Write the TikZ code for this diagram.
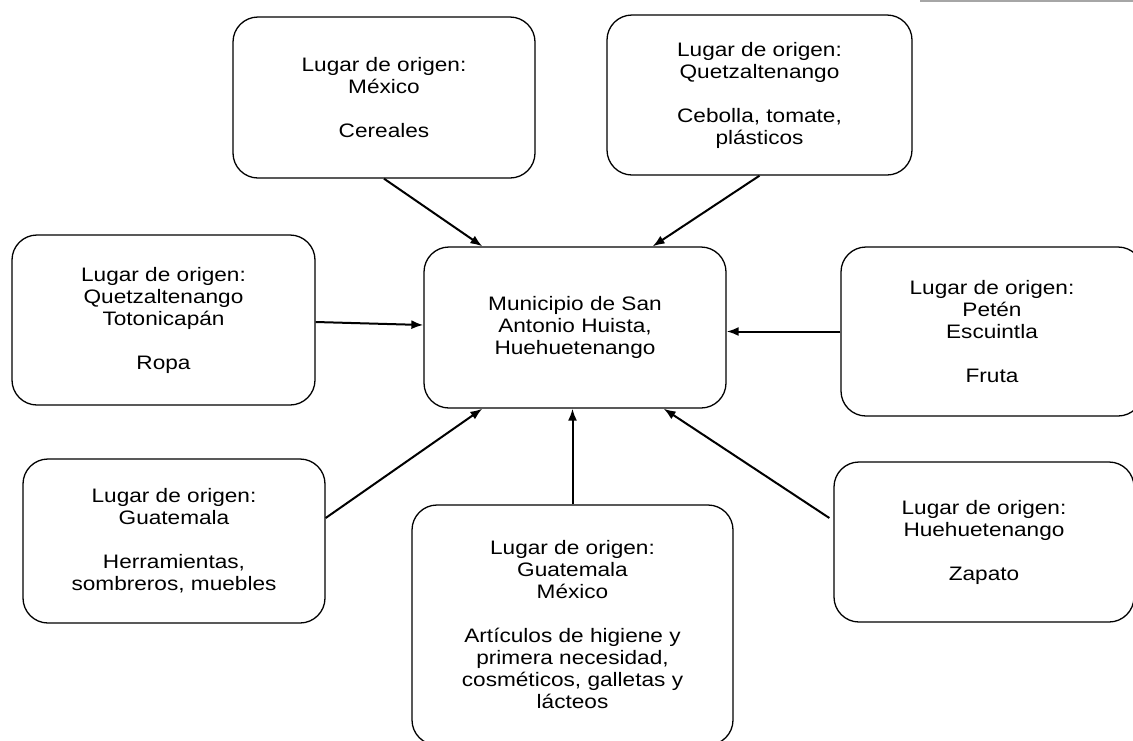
\documentclass[tikz,border=0pt]{standalone}
\usepackage{fontspec}
\setmainfont{Liberation Sans}[FakeStretch=1.16]
\usetikzlibrary{arrows.meta}
\begin{document}
\begin{tikzpicture}[x=1pt,y=-1pt,>={Latex[length=12pt,width=9pt]},
  origen/.style={draw,line width=1.3pt,rounded corners=25pt,align=center,
    minimum width=302pt,minimum height=161pt,inner sep=0pt,
    font=\fontsize{19.5}{22}\selectfont}]
\useasboundingbox (0,0) rectangle (1133,740);
\draw[gray!70,line width=1.5pt] (920,1) -- (1133,1);
\node[origen] (c) at (575,327.5) {Municipio de San\\Antonio Huista,\\Huehuetenango};
\node[origen] (tl) at (384,97.5) {Lugar de origen:\\México\\[22pt]Cereales};
\node[origen,minimum width=305pt,minimum height=160pt] (tr) at (759.5,95)
  {Lugar de origen:\\Quetzaltenango\\[22pt]Cebolla, tomate,\\plásticos};
\node[origen,minimum width=303pt,minimum height=170pt] (lft) at (163.5,320)
  {Lugar de origen:\\Quetzaltenango\\Totonicapán\\[22pt]Ropa};
\node[origen,minimum height=169pt] (rgt) at (992,331.5)
  {Lugar de origen:\\Petén\\Escuintla\\[22pt]Fruta};
\node[origen,minimum height=164pt] (bl) at (174,541)
  {Lugar de origen:\\Guatemala\\[22pt]Herramientas,\\sombreros, muebles};
\node[origen,minimum width=321pt,minimum height=240pt] (bc) at (572.5,625)
  {Lugar de origen:\\Guatemala\\México\\[22pt]Artículos de higiene y\\primera necesidad,\\cosméticos, galletas y\\lácteos};
\node[origen,minimum width=300pt,minimum height=160pt] (br) at (984,542)
  {Lugar de origen:\\Huehuetenango\\[22pt]Zapato};
\draw[->,line width=2pt] (tl.south) -- ([xshift=59pt]c.north west);
\draw[->,line width=2pt] (tr.south) -- ([xshift=-74pt]c.north east);
\draw[->,line width=2pt] ([yshift=-2pt]lft.east) -- ([yshift=2.5pt]c.west);
\draw[->,line width=2pt] (rgt.west) -- (rgt.west -| c.east);
\draw[->,line width=2pt] ([yshift=23pt]bl.east) -- ([xshift=59pt]c.south west);
\draw[->,line width=2pt] (bc.north) -- (bc.north |- c.south);
\draw[->,line width=2pt] ([xshift=-4pt,yshift=24pt]br.west) -- ([xshift=-63pt]c.south east);
\end{tikzpicture}
\end{document}
